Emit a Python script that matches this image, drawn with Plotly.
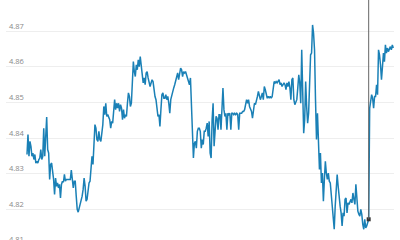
import plotly.graph_objects as go

# Exchange-rate style series
rate_part1 = [
    4.8354, 4.8410, 4.8349, 4.8391, 4.8377, 4.8349, 4.8358, 4.8340, 4.8354, 4.8330,
    4.8335, 4.8330, 4.8340, 4.8344, 4.8368, 4.8340, 4.8349, 4.8428, 4.8349, 4.8396,
    4.8459, 4.8368, 4.8358, 4.8284, 4.8326, 4.8330, 4.8312, 4.8284, 4.8242, 4.8288,
    4.8265, 4.8274, 4.8260, 4.8270, 4.8232, 4.8270, 4.8279, 4.8276, 4.8298, 4.8279,
    4.8284, 4.8284, 4.8286, 4.8284, 4.8284, 4.8310, 4.8279, 4.8260, 4.8279, 4.8279,
    4.8237, 4.8200, 4.8192, 4.8204, 4.8209, 4.8223, 4.8237, 4.8256, 4.8288, 4.8265,
    4.8223, 4.8228, 4.8265, 4.8274, 4.8279, 4.8312, 4.8349, 4.8326, 4.8377, 4.8438,
    4.8428, 4.8396, 4.8391, 4.8419, 4.8396, 4.8391, 4.8414, 4.8438, 4.8489, 4.8466,
    4.8498, 4.8461, 4.8466, 4.8456, 4.8452, 4.8428, 4.8447, 4.8442, 4.8480, 4.8508,
    4.8480, 4.8498, 4.8484, 4.8498, 4.8475, 4.8494, 4.8484, 4.8452, 4.8480, 4.8456,
    4.8466, 4.8461, 4.8498, 4.8527, 4.8517, 4.8489, 4.8498, 4.8573, 4.8615, 4.8587,
    4.8573, 4.8606, 4.8592, 4.8620, 4.8601, 4.8629, 4.8606, 4.8587, 4.8555, 4.8569,
    4.8550, 4.8583, 4.8587, 4.8569, 4.8559, 4.8545, 4.8555, 4.8564, 4.8559, 4.8536,
    4.8517, 4.8508, 4.8470, 4.8461, 4.8466, 4.8433, 4.8480, 4.8522, 4.8527, 4.8512,
    4.8512, 4.8522, 4.8508, 4.8517, 4.8498, 4.8470, 4.8508, 4.8522, 4.8536, 4.8541,
    4.8550, 4.8564, 4.8578, 4.8583, 4.8564, 4.8587, 4.8597, 4.8592, 4.8573, 4.8587,
    4.8583, 4.8587, 4.8578, 4.8573, 4.8564, 4.8550, 4.8569, 4.8508, 4.8433, 4.8344,
    4.8386, 4.8391, 4.8372, 4.8419, 4.8428,
]
rate_part2 = [
    4.8428, 4.8419, 4.8372, 4.8396, 4.8382, 4.8419, 4.8419, 4.8428, 4.8442, 4.8405,
    4.8447, 4.8358, 4.8344, 4.8452, 4.8498, 4.8377, 4.8433, 4.8461, 4.8456, 4.8424,
    4.8466, 4.8466, 4.8424, 4.8470, 4.8541, 4.8480, 4.8461, 4.8470, 4.8424, 4.8470,
    4.8466, 4.8470, 4.8424, 4.8470, 4.8470, 4.8466, 4.8470, 4.8466, 4.8470, 4.8466,
    4.8424, 4.8470, 4.8470, 4.8470, 4.8475, 4.8475, 4.8480, 4.8494, 4.8508, 4.8498,
    4.8508, 4.8489, 4.8480, 4.8475, 4.8456, 4.8489, 4.8498, 4.8494, 4.8503, 4.8517,
    4.8531, 4.8517, 4.8508, 4.8517, 4.8527, 4.8508, 4.8545, 4.8536, 4.8517, 4.8512,
    4.8517, 4.8512, 4.8517, 4.8512, 4.8517, 4.8550, 4.8559, 4.8555, 4.8559, 4.8555,
    4.8559, 4.8564, 4.8550, 4.8555, 4.8545, 4.8550, 4.8555, 4.8550, 4.8536, 4.8555,
    4.8545, 4.8559, 4.8541, 4.8508, 4.8564, 4.8569, 4.8508, 4.8494, 4.8503, 4.8508,
    4.8541, 4.8578, 4.8555, 4.8498, 4.8648, 4.8489, 4.8414, 4.8452, 4.8559, 4.8489,
    4.8442, 4.8470, 4.8545, 4.8634, 4.8639, 4.8718, 4.8695, 4.8648, 4.8508, 4.8396,
    4.8470, 4.8377, 4.8312, 4.8358, 4.8274, 4.8302, 4.8223, 4.8284, 4.8335, 4.8302,
    4.8284, 4.8302, 4.8279, 4.8274, 4.8242, 4.8204, 4.8190, 4.8144, 4.8209, 4.8265,
    4.8298, 4.8265, 4.8228, 4.8209, 4.8190, 4.8153, 4.8190, 4.8181, 4.8228, 4.8232,
    4.8190, 4.8218, 4.8214, 4.8223, 4.8228, 4.8218, 4.8246, 4.8228, 4.8214, 4.8270,
    4.8232, 4.8195, 4.8186, 4.8181, 4.8200, 4.8186, 4.8158, 4.8144, 4.8172, 4.8148,
    4.8153, 4.8162, 4.8172, 4.8484, 4.8508, 4.8522, 4.8512, 4.8484, 4.8517, 4.8517,
    4.8550, 4.8522, 4.8648, 4.8634, 4.8606, 4.8564, 4.8601, 4.8639, 4.8615, 4.8662,
    4.8639, 4.8653, 4.8643, 4.8648, 4.8657, 4.8648, 4.8662, 4.8653,
]
rates = rate_part1 + rate_part2
steps = list(range(len(rates)))
cursor_idx = 347

y_ticks = [4.81, 4.82, 4.83, 4.84, 4.85, 4.86, 4.87]
y_tick_labels = ["4.81", "4.82", "4.83", "4.84", "4.85", "4.86", "4.87"]
y_min, y_max = 4.8097, 4.8788

n = len(rates)
per_step = 366.3 / (n - 1)
x_min = -21.0 / per_step
x_max = (n - 1) + 0.7 / per_step

fig = go.Figure()
fig.add_trace(go.Scatter(
    x=steps, y=rates, mode="lines",
    line=dict(color="#1a80b6", width=1.5),
    hoverinfo="skip",
))
fig.add_shape(type="line", xref="x", yref="y",
              x0=steps[cursor_idx], x1=steps[cursor_idx],
              y0=rates[cursor_idx], y1=y_max,
              line=dict(color="#666666", width=1))
fig.add_trace(go.Scatter(
    x=[steps[cursor_idx]], y=[rates[cursor_idx]], mode="markers",
    marker=dict(color="#333333", size=4, symbol="square"),
    hoverinfo="skip",
))

fig.update_layout(
    width=400, height=246,
    margin=dict(l=6, r=6, t=0, b=0),
    paper_bgcolor="white", plot_bgcolor="white",
    showlegend=False,
    font=dict(family="Open Sans", size=8, color="#888888"),
)
fig.update_xaxes(range=[x_min, x_max], visible=False, showgrid=False, zeroline=False)
fig.update_yaxes(
    range=[y_min, y_max],
    tickvals=y_ticks, ticktext=y_tick_labels,
    ticklabelposition="inside top",
    showgrid=True, gridcolor="#eeeeee", gridwidth=1,
    zeroline=False, showline=False, ticks="",
    tickfont=dict(size=7.5, color="#888888"),
)

fig.write_html(
    "out.html",
    post_script="document.documentElement.style.overflow='hidden';document.body.style.overflow='hidden';",
)
